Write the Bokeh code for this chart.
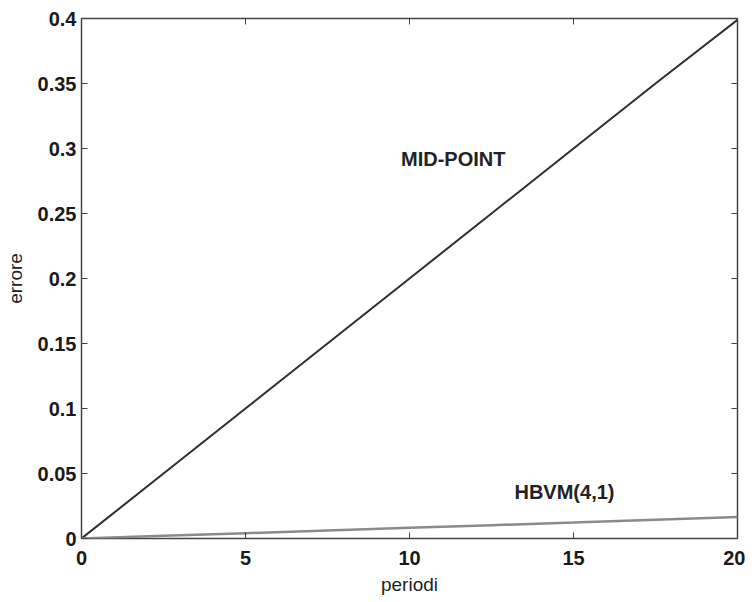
from bokeh.plotting import figure
from bokeh.models import LinearAxis, Range1d, FixedTicker, Label
from bokeh.embed import file_html
from bokeh.resources import INLINE

periodi = [0, 2.5, 5, 7.5, 10, 12.5, 15, 17.5, 20]
midpoint = [0.0, 0.05, 0.1, 0.15, 0.2, 0.25, 0.3, 0.35, 0.399]
hbvm = [0.0, 0.0021, 0.0041, 0.0062, 0.0082, 0.0102, 0.0123, 0.0145, 0.0165]
x_ticks = [0, 5, 10, 15, 20]
y_ticks = [0, 0.05, 0.1, 0.15, 0.2, 0.25, 0.3, 0.35, 0.4]
y_tick_labels = {0: "0", 0.05: "0.05", 0.1: "0.1", 0.15: "0.15", 0.2: "0.2",
                 0.25: "0.25", 0.3: "0.3", 0.35: "0.35", 0.4: "0.4"}

FONT = "Liberation Sans"

p = figure(width=745, height=602, output_backend="svg", toolbar_location=None,
           x_range=Range1d(0, 20), y_range=Range1d(0, 0.4),
           min_border_left=81, min_border_right=8, min_border_top=18, min_border_bottom=64,
           x_axis_label="periodi", y_axis_label="errore")
p.grid.visible = False
p.outline_line_color = "#444444"
p.outline_line_width = 1.5
p.background_fill_color = "white"
p.border_fill_color = "white"

for ax in (p.xaxis[0], p.yaxis[0]):
    ax.major_tick_in = 6
    ax.major_tick_out = 0
    ax.minor_tick_line_color = None
    ax.axis_line_color = None
    ax.major_tick_line_color = "#444444"
    ax.major_label_text_font = FONT
    ax.major_label_text_font_style = "bold"
    ax.major_label_text_font_size = "20px"
    ax.major_label_text_color = "#1a1a1a"
    ax.axis_label_text_font = FONT
    ax.axis_label_text_font_style = "normal"
    ax.axis_label_text_font_size = "19px"
    ax.axis_label_text_color = "#222222"

p.xaxis[0].ticker = FixedTicker(ticks=x_ticks)
p.yaxis[0].ticker = FixedTicker(ticks=y_ticks)
p.yaxis[0].major_label_overrides = y_tick_labels
p.xaxis[0].major_label_standoff = 12
p.yaxis[0].major_label_standoff = 5
p.xaxis[0].axis_label_standoff = 6
p.yaxis[0].axis_label_standoff = 9

for loc, ticks in (("above", x_ticks), ("right", y_ticks)):
    a = LinearAxis(ticker=FixedTicker(ticks=ticks), major_tick_in=6, major_tick_out=0,
                   minor_tick_line_color=None, axis_line_color=None,
                   major_tick_line_color="#444444",
                   major_label_overrides={t: "" for t in ticks},
                   major_label_standoff=0)
    p.add_layout(a, loc)

p.line(periodi, midpoint, line_color="#2e2e2e", line_width=2)
p.line(periodi, hbvm, line_color="#8a8a8a", line_width=2.5)

p.add_layout(Label(x=9.74, y=0.292, text="MID-POINT", text_font=FONT, text_font_style="bold",
                   text_font_size="20px", text_color="#222222", text_baseline="middle"))
p.add_layout(Label(x=13.2, y=0.0355, text="HBVM(4,1)", text_font=FONT, text_font_style="bold",
                   text_font_size="20px", text_color="#222222", text_baseline="middle"))

open("out.html", "w").write(file_html(p, INLINE))
